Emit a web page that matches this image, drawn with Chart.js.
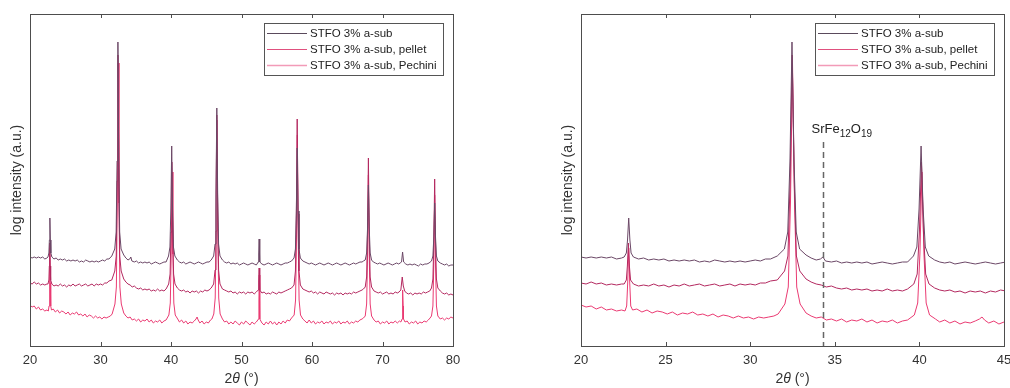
<!DOCTYPE html>
<html>
<head>
<meta charset="utf-8">
<script src="https://cdn.jsdelivr.net/npm/chart.js@4.4.1/dist/chart.umd.min.js"></script>
<style>
  html, body { margin: 0; padding: 0; background: #fff; overflow: hidden; width: 1010px; height: 388px; }
  .panel { position: absolute; top: 0; }
</style>
</head>
<body>
<div class="panel" style="left:0"><canvas id="fullScan" width="505" height="388"></canvas></div>
<div class="panel" style="left:505px"><canvas id="zoomScan" width="515" height="388"></canvas></div>
<script>
// series labels (legend order)
const seriesNames = ['STFO 3% a-sub', 'STFO 3% a-sub, pellet', 'STFO 3% a-sub, Pechini'];
const seriesColors = ['#6b4766', '#b3285f', '#ea3a72'];
const legendColors = ['#5a4a5c', '#e0507e', '#f29bb8'];

// [2theta, log intensity (a.u., offset stacked)]
const aSub = [
  [20,89],[20.3,88],[20.6,89],[20.9,88],[21.2,89],[21.5,88],[21.8,89],[22.1,87],[22.4,88],
  [22.55,89],[22.68,93],[22.75,106],[22.82,128],[22.89,106],[22.96,93],[23.1,89],
  [23.4,87],[23.7,88],[24.0,86],[24.3,87],[24.6,86],[24.9,87],[25.2,85],[25.5,86],[25.8,85],[26.1,86],[26.4,85],
  [26.7,86],[27.0,84],[27.3,85],[27.6,84],[27.9,86],[28.2,85],[28.5,84],[28.8,85],[29.1,84],[29.4,85],[29.7,84],
  [30.0,85],[30.3,86],[30.6,85],[30.9,87],[31.2,87],
  [31.6,90],[32.02,97],[32.22,114],[32.35,185],[32.47,304],[32.59,185],[32.72,114],[32.92,97],[33.3,91],
  [33.6,88],[33.9,86],[34.15,87],[34.3,89],[34.45,85],[34.8,84],[35.1,85],[35.4,83],[35.7,84],[36.0,83],[36.3,84],
  [36.6,83],[36.9,84],[37.2,82],[37.5,83],[37.8,84],[38.1,83],[38.4,82],[38.7,83],[39.0,84],[39.3,84],
  [39.65,90],[39.85,99],[39.98,137],[40.1,200],[40.22,137],[40.35,99],[40.55,90],[40.9,86],
  [41.2,84],[41.5,83],[41.8,84],[42.1,82],[42.4,83],[42.7,84],[43.0,83],[43.3,82],[43.6,83],[43.9,84],[44.2,83],
  [44.5,82],[44.8,83],[45.1,84],[45.4,84],[45.7,86],
  [46.05,90],[46.25,102],[46.38,153],[46.5,238],[46.62,153],[46.75,102],[46.95,90],[47.3,86],
  [47.6,84],[47.9,83],[48.2,84],[48.5,82],[48.8,83],[49.1,82],[49.4,83],[49.7,81],[50.0,82],[50.3,83],[50.6,82],
  [50.9,81],[51.2,82],[51.5,83],[51.8,82],[52.1,81],
  [52.38,84],[52.44,92],[52.5,107],[52.56,92],[52.62,84],
  [52.9,82],[53.2,81],[53.5,82],[53.8,83],[54.1,82],[54.4,81],[54.7,82],[55.0,83],[55.3,82],[55.6,81],[55.9,82],
  [56.2,83],[56.5,83],[56.8,84],[57.1,85],
  [57.45,88],[57.65,97],[57.78,135],[57.9,198],[58.02,135],[58.15,97],[58.35,88],[58.7,85],
  [59.0,84],[59.3,83],[59.6,82],[59.9,83],[60.2,82],[60.5,81],[60.8,82],[61.1,83],[61.4,82],[61.7,81],[62.0,82],
  [62.3,83],[62.6,82],[62.9,81],[63.2,82],[63.5,83],[63.8,82],[64.1,81],[64.4,82],[64.7,83],[65.0,82],[65.3,81],
  [65.6,82],[65.9,83],[66.2,82],[66.5,83],[66.8,84],[67.1,84],[67.3,85],
  [67.55,86],[67.75,93],[67.88,118],[68.0,161],[68.12,118],[68.25,93],[68.45,86],
  [68.7,84],[69.0,83],[69.3,82],[69.6,83],[69.9,82],[70.2,81],[70.5,82],[70.8,83],[71.1,82],[71.4,81],[71.7,82],
  [72.0,83],[72.3,82],[72.5,83],
  [72.7,84],[72.85,94],[73.0,84],
  [73.3,82],[73.6,81],[73.9,82],[74.2,81],[74.5,82],[74.8,81],[75.1,80],[75.4,82],[75.7,81],[76.0,82],[76.3,82],
  [76.6,83],
  [76.95,85],[77.15,90],[77.28,109],[77.4,143],[77.52,109],[77.65,90],[77.85,85],
  [78.2,83],[78.5,82],[78.8,81],[79.1,82],[79.4,80],[79.7,81],[80,81]
];
const pellet = [
  [20,63],[20.3,62],[20.6,64],[20.9,62],[21.2,63],[21.5,61],[21.8,62],[22.1,61],[22.4,62],
  [22.55,62],[22.68,66],[22.74,80],[22.8,103],[22.86,80],[22.93,66],[23.1,62],
  [23.4,60],[23.7,61],[24.0,60],[24.3,62],[24.6,60],[24.9,61],[25.2,59],[25.5,61],[25.8,60],[26.1,62],[26.4,60],
  [26.7,61],[27.0,62],[27.3,60],[27.6,61],[27.9,62],[28.2,60],[28.5,61],[28.8,62],[29.1,60],[29.4,62],[29.7,61],
  [30.0,62],[30.3,61],[30.6,63],[30.9,63],[31.2,65],
  [31.6,66],[32.03,75],[32.23,90],[32.36,165],[32.48,291],[32.6,165],[32.73,90],[32.93,75],[33.3,67],
  [33.6,64],[33.9,62],[34.2,61],[34.5,59],[34.8,60],[35.1,58],[35.4,57],[35.7,58],[36.0,56],[36.3,57],[36.6,56],
  [36.9,57],[37.2,55],[37.5,56],[37.8,55],[38.1,57],[38.4,55],[38.7,56],[39.0,55],[39.3,57],
  [39.67,62],[39.87,72],[40.0,114],[40.12,184],[40.24,114],[40.37,72],[40.57,62],[40.9,58],
  [41.2,56],[41.5,55],[41.8,56],[42.1,54],[42.4,55],[42.7,53],[43.0,55],[43.3,54],[43.6,55],[43.9,53],[44.2,55],
  [44.5,54],[44.8,56],[45.1,55],[45.4,56],[45.7,58],
  [46.05,62],[46.25,76],[46.38,135],[46.5,231],[46.62,135],[46.75,76],[46.95,62],[47.3,57],
  [47.6,56],[47.9,55],[48.2,54],[48.5,55],[48.8,53],[49.1,54],[49.4,52],[49.7,54],[50.0,53],[50.3,54],[50.6,52],
  [50.9,54],[51.2,53],[51.5,54],[51.8,52],[52.1,54],
  [52.38,56],[52.44,65],[52.5,78],[52.56,64],[52.62,56],
  [52.9,53],[53.2,54],[53.5,52],[53.8,53],[54.1,52],[54.4,54],[54.7,53],[55.0,52],[55.3,54],[55.6,53],[55.9,54],
  [56.2,55],[56.5,56],[56.8,57],[57.1,58],
  [57.45,61],[57.65,75],[57.78,132],[57.9,227],[58.02,132],[58.15,75],[58.35,61],[58.7,57],
  [59.0,56],[59.3,55],[59.6,54],[59.9,55],[60.2,53],[60.5,54],[60.8,52],[61.1,54],[61.4,53],[61.7,52],[62.0,54],
  [62.3,53],[62.6,52],[62.9,53],[63.2,51],[63.5,53],[63.8,52],[64.1,53],[64.4,51],[64.7,53],[65.0,52],[65.3,53],
  [65.6,52],[65.9,54],[66.2,53],[66.5,54],[66.8,55],[67.1,56],[67.3,57],
  [67.55,59],[67.75,69],[67.88,114],[68.0,188],[68.12,114],[68.25,69],[68.45,59],[68.8,55],
  [69.1,54],[69.4,53],[69.7,54],[70.0,52],[70.3,53],[70.6,54],[70.9,52],[71.2,53],[71.5,52],[71.8,54],[72.1,53],
  [72.35,54],
  [72.6,56],[72.8,69],[72.95,60],[73.15,55],
  [73.4,53],[73.7,52],[74.0,53],[74.3,51],[74.6,53],[74.9,52],[75.2,53],[75.5,52],[75.8,54],[76.1,53],[76.4,54],
  [76.7,55],
  [76.95,58],[77.15,67],[77.28,104],[77.4,167],[77.52,104],[77.65,67],[77.85,58],[78.2,55],
  [78.5,53],[78.8,52],[79.1,53],[79.4,51],[79.7,52],[80,51]
];
const pechini = [
  [20,41],[20.3,39],[20.6,40],[20.9,37],[21.2,39],[21.5,36],[21.8,37],[22.1,35],[22.4,36],
  [22.6,35],[22.7,40],[22.76,63],[22.82,98],[22.88,63],[22.94,40],[23.05,36],
  [23.3,37],[23.6,34],[23.9,36],[24.2,33],[24.5,35],[24.8,34],[25.1,32],[25.4,34],[25.7,31],[26.0,33],[26.3,32],
  [26.6,34],[26.9,31],[27.2,32],[27.5,30],[27.8,32],[28.1,29],[28.4,31],[28.7,30],[29.0,28],[29.3,30],[29.6,28],
  [29.9,29],[30.2,27],[30.5,29],[30.8,28],[31.1,29],[31.4,30],
  [31.65,32],[32.05,42],[32.25,59],[32.38,143],[32.5,283],[32.62,143],[32.75,59],[32.95,42],[33.3,33],
  [33.6,30],[33.9,28],[34.2,29],[34.5,26],[34.8,27],[35.1,25],[35.4,27],[35.7,24],[36.0,26],[36.3,25],[36.6,27],
  [36.9,24],[37.2,26],[37.5,23],[37.8,25],[38.1,24],[38.4,26],[38.7,23],[39.0,25],[39.3,26],
  [39.7,31],[39.9,43],[40.03,92],[40.15,174],[40.27,92],[40.4,43],[40.6,31],[40.95,27],
  [41.2,24],[41.5,26],[41.8,23],[42.1,25],[42.4,22],[42.7,24],[43.0,23],[43.3,25],[43.55,27],[43.7,29],[43.85,26],
  [44.1,23],[44.4,25],[44.7,22],[45.0,24],[45.3,23],[45.6,26],[45.8,27],
  [46.07,32],[46.27,48],[46.4,115],[46.52,226],[46.64,115],[46.77,48],[46.97,32],[47.3,27],
  [47.6,24],[47.9,25],[48.2,22],[48.5,24],[48.8,22],[49.1,25],[49.4,23],[49.7,21],[50.0,24],[50.3,22],[50.6,25],
  [50.9,23],[51.2,21],[51.5,24],[51.8,22],[52.1,24],
  [52.42,27],[52.47,45],[52.52,71],[52.57,45],[52.62,27],
  [52.9,23],[53.2,21],[53.5,24],[53.8,22],[54.1,25],[54.4,22],[54.7,24],[55.0,21],[55.3,24],[55.6,22],[55.9,25],
  [56.2,23],[56.5,26],[56.8,25],[57.1,28],
  [57.47,31],[57.67,46],[57.8,108],[57.92,211],[58.04,108],[58.17,46],[58.37,31],[58.7,27],
  [59.0,25],[59.3,23],[59.6,26],[59.9,23],[60.2,25],[60.5,22],[60.8,24],[61.1,23],[61.4,25],[61.7,22],[62.0,24],
  [62.3,23],[62.6,25],[62.9,22],[63.2,24],[63.5,23],[63.8,25],[64.1,22],[64.4,24],[64.7,23],[65.0,25],[65.3,22],
  [65.6,24],[65.9,23],[66.2,25],[66.5,24],[66.8,26],[67.1,27],[67.3,28],
  [67.55,30],[67.75,42],[67.88,90],[68.0,171],[68.12,90],[68.25,42],[68.45,30],[68.8,26],
  [69.1,24],[69.4,25],[69.7,22],[70.0,24],[70.3,23],[70.6,25],[70.9,22],[71.2,24],[71.5,23],[71.8,25],[72.1,23],
  [72.4,25],[72.6,24],
  [72.78,27],[72.83,40],[72.88,56],[72.93,40],[72.98,27],
  [73.2,24],[73.5,25],[73.8,22],[74.1,24],[74.4,23],[74.7,25],[75.0,22],[75.3,24],[75.6,23],[75.9,25],[76.2,24],
  [76.5,26],[76.75,28],
  [76.95,30],[77.15,40],[77.28,82],[77.4,151],[77.52,82],[77.65,40],[77.85,30],[78.2,27],
  [78.5,28],[78.8,26],[79.1,28],[79.4,27],[79.7,29],[80,28]
];
const allSeries = [aSub, pellet, pechini];

// SrFe12O19 reflection marker (right panel)
const markerTheta = 34.3;
const markerTop = 204;

const fontName = '"Liberation Sans", Arial, sans-serif';

// box around plot + inward ticks top and bottom
const framePlugin = {
  id: 'frame',
  afterDatasetsDraw(chart) {
    const { ctx, chartArea: a, scales: { x } } = chart;
    ctx.save();
    ctx.strokeStyle = '#4d4d4d';
    ctx.lineWidth = 1;
    ctx.strokeRect(Math.round(a.left) + 0.5, Math.round(a.top) + 0.5,
      Math.round(a.right - a.left), Math.round(a.bottom - a.top));
    x.ticks.forEach(t => {
      const px = Math.round(x.getPixelForValue(t.value)) + 0.5;
      ctx.beginPath();
      ctx.moveTo(px, a.bottom); ctx.lineTo(px, a.bottom - 4);
      ctx.moveTo(px, a.top); ctx.lineTo(px, a.top + 4);
      ctx.stroke();
    });
    // x axis title with italic theta
    const parts = [['2', 'normal'], ['\u03B8', 'italic'], [' (\u00B0)', 'normal']];
    ctx.fillStyle = '#333';
    ctx.textBaseline = 'middle';
    let total = 0;
    parts.forEach(p => { ctx.font = p[1] + ' 14px ' + fontName; total += ctx.measureText(p[0]).width; });
    let tx = (a.left + a.right) / 2 - total / 2;
    parts.forEach(p => {
      ctx.font = p[1] + ' 14px ' + fontName;
      ctx.fillText(p[0], tx, 379);
      tx += ctx.measureText(p[0]).width;
    });
    ctx.restore();
  }
};

// legend box in upper right corner
const legendPlugin = {
  id: 'boxLegend',
  afterDatasetsDraw(chart) {
    const { ctx, chartArea: a } = chart;
    const w = 179, h = 52;
    const bx = Math.round(a.right - 10 - w), by = Math.round(a.top + 9);
    ctx.save();
    ctx.fillStyle = '#fff';
    ctx.fillRect(bx, by, w, h);
    ctx.strokeStyle = '#555';
    ctx.lineWidth = 1;
    ctx.strokeRect(bx + 0.5, by + 0.5, w, h);
    ctx.font = '11.5px ' + fontName;
    ctx.textBaseline = 'middle';
    seriesNames.forEach((name, i) => {
      const ry = by + 10.5 + i * 16;
      ctx.strokeStyle = legendColors[i];
      ctx.lineWidth = i === 2 ? 1.5 : 1;
      ctx.beginPath(); ctx.moveTo(bx + 3, ry); ctx.lineTo(bx + 43, ry); ctx.stroke();
      ctx.fillStyle = '#222';
      ctx.fillText(name, bx + 46, ry);
    });
    ctx.restore();
  }
};

// dashed SrFe12O19 marker with subscripted label
const markerPlugin = {
  id: 'marker',
  afterDatasetsDraw(chart) {
    if (!chart.options.plugins.marker) return;
    const { ctx, chartArea: a, scales: { x, y } } = chart;
    const px = Math.round(x.getPixelForValue(markerTheta)) + 0.5;
    const top = y.getPixelForValue(markerTop);
    ctx.save();
    ctx.strokeStyle = '#666';
    ctx.lineWidth = 1.5;
    ctx.setLineDash([6, 4]);
    ctx.beginPath(); ctx.moveTo(px, top); ctx.lineTo(px, a.bottom); ctx.stroke();
    ctx.setLineDash([]);
    ctx.fillStyle = '#222';
    ctx.textBaseline = 'alphabetic';
    const pieces = [['SrFe', 13, 0], ['12', 10, 4], ['O', 13, 0], ['19', 10, 4]];
    let tx = px - 12;
    const base = top - 9;
    pieces.forEach(p => {
      ctx.font = p[1] + 'px ' + fontName;
      ctx.fillText(p[0], tx, base + p[2]);
      tx += ctx.measureText(p[0]).width;
    });
    ctx.restore();
  }
};

function makeChart(id, xMin, xMax, step, padLeft, padRight, showMarker) {
  return new Chart(document.getElementById(id), {
    type: 'line',
    data: {
      datasets: allSeries.map((s, i) => ({
        label: seriesNames[i],
        data: s.map(p => ({ x: p[0], y: p[1] })),
        borderColor: seriesColors[i],
        borderWidth: 1,
        pointRadius: 0,
        tension: 0,
        fill: false
      }))
    },
    options: {
      responsive: false,
      animation: false,
      devicePixelRatio: 1,
      layout: { padding: { left: padLeft, right: padRight, top: 14, bottom: 0 } },
      plugins: {
        legend: { display: false },
        tooltip: { enabled: false },
        marker: showMarker
      },
      scales: {
        x: {
          type: 'linear', min: xMin, max: xMax,
          grid: { display: false, drawTicks: false },
          border: { display: false },
          ticks: { stepSize: step, padding: 7, color: '#333', font: { size: 13, family: fontName }, maxRotation: 0 },
          afterFit: s => { s.height = 42; }
        },
        y: {
          min: 0, max: 332,
          grid: { display: false, drawTicks: false },
          border: { display: false },
          ticks: { display: false },
          title: { display: true, text: 'log intensity (a.u.)', color: '#333',
                   font: { size: 14, family: fontName }, padding: { top: 9, bottom: 0 } },
          afterFit: s => { s.width = 30; }
        }
      }
    },
    plugins: [framePlugin, markerPlugin, legendPlugin]
  });
}

makeChart('fullScan', 20, 80, 10, 0, 52, false);
makeChart('zoomScan', 20, 45, 5, 46, 16, true);
</script>
</body>
</html>
